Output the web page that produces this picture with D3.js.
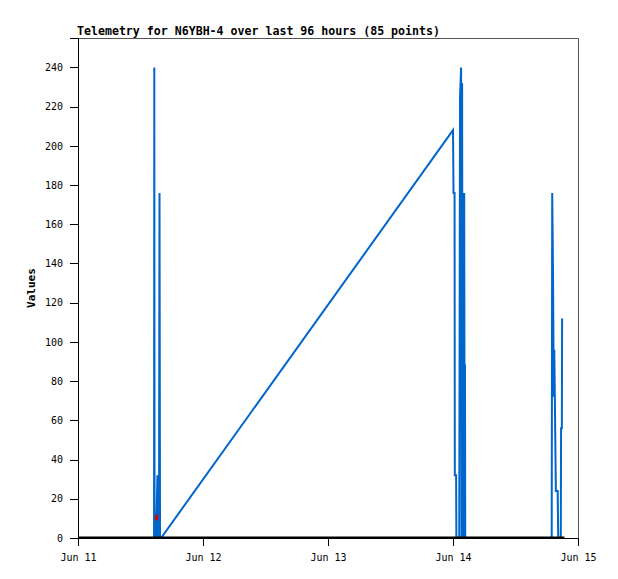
<!DOCTYPE html>
<html>
<head>
<meta charset="utf-8">
<script src="https://cdn.jsdelivr.net/npm/d3@7"></script>
<style>
  body { margin: 0; background: #fff; }
  svg { display: block; }
</style>
</head>
<body>
<div id="chart"></div>
<script>
const title = "Telemetry for N6YBH-4 over last 96 hours (85 points)";
const yLabel = "Values";
const xDomain = ["2024-06-11T00:00", "2024-06-15T00:00"];
const yDomain = [0, 255];
const yTicks = [0, 20, 40, 60, 80, 100, 120, 140, 160, 180, 200, 220, 240];
const xTicks = ["2024-06-11T00:00", "2024-06-12T00:00", "2024-06-13T00:00", "2024-06-14T00:00", "2024-06-15T00:00"];

// Main telemetry series (blue)
const blueTimes = [
  "2024-06-11T14:36", "2024-06-11T14:39", "2024-06-11T14:42", "2024-06-11T15:00",
  "2024-06-11T15:15", "2024-06-11T15:21", "2024-06-11T15:33", "2024-06-11T15:39",
  "2024-06-11T15:45", "2024-06-11T15:57",
  "2024-06-14T00:00", "2024-06-14T00:06", "2024-06-14T00:18", "2024-06-14T00:21",
  "2024-06-14T00:36", "2024-06-14T00:39", "2024-06-14T01:12", "2024-06-14T01:21",
  "2024-06-14T01:33", "2024-06-14T01:39", "2024-06-14T01:45", "2024-06-14T01:51",
  "2024-06-14T01:57", "2024-06-14T02:03", "2024-06-14T02:09", "2024-06-14T02:12",
  "2024-06-14T02:18", "2024-06-14T02:21",
  "2024-06-14T18:57", "2024-06-14T19:03", "2024-06-14T19:12", "2024-06-14T19:21",
  "2024-06-14T19:27", "2024-06-14T19:45", "2024-06-14T20:06", "2024-06-14T20:12",
  "2024-06-14T20:42", "2024-06-14T20:45", "2024-06-14T20:54", "2024-06-14T20:57"
];
const blueValues = [
  0, 240, 0, 0,
  32, 0, 0, 176,
  0, 0,
  208, 176, 176, 32,
  32, 0, 0, 225,
  240, 0, 232, 0,
  176, 0, 176, 88,
  88, 0,
  0, 176, 136, 72,
  96, 24, 24, 0,
  0, 56, 56, 112
];

// Zero baseline series (black)
const blackTimes = ["2024-06-11T00:00", "2024-06-14T21:24"];
const blackValues = [0, 0];

// Small red series
const redTimes = ["2024-06-11T15:06", "2024-06-11T15:07"];
const redValues = [9, 12];

const W = 618, H = 579;
const margin = { left: 78, right: 40, top: 38, bottom: 41 };
const parse = d3.utcParse("%Y-%m-%dT%H:%M");

const svg = d3.select("#chart").append("svg").attr("width", W).attr("height", H);

const x = d3.scaleUtc().domain(xDomain.map(parse)).range([margin.left, W - margin.right]);
const y = d3.scaleLinear().domain(yDomain).range([H - margin.bottom, margin.top]);

const font = "'DejaVu Sans Mono', 'Liberation Mono', monospace";

// frame (top & right)
svg.append("path")
  .attr("d", `M${x.range()[0]},${y.range()[1]+0.5}H${x.range()[1]+0.5}V${y.range()[0]}`)
  .attr("fill", "none").attr("stroke", "#555").attr("stroke-width", 1);

const mkSeries = (times, values) => times.map((t, i) => ({ t: parse(t), v: values[i] }));
const line = d3.line().x(d => x(d.t)).y(d => y(d.v));

svg.append("path").datum(mkSeries(blueTimes, blueValues))
  .attr("d", line).attr("fill", "none").attr("stroke", "#0066cc")
  .attr("stroke-width", 2).attr("stroke-linejoin", "miter");

svg.append("path").datum(mkSeries(redTimes, redValues))
  .attr("d", line).attr("fill", "none").attr("stroke", "#e00000")
  .attr("stroke-width", 3);

svg.append("path").datum(mkSeries(blackTimes, blackValues))
  .attr("d", line).attr("fill", "none").attr("stroke", "#000")
  .attr("stroke-width", 2).attr("transform", "translate(0,-0.5)");

// axes
const yAxis = d3.axisLeft(y).tickValues(yTicks).tickSize(8).tickPadding(7);
const gy = svg.append("g").attr("transform", `translate(${margin.left},0)`).call(yAxis);
const xAxis = d3.axisBottom(x).tickValues(xTicks.map(parse)).tickSize(8).tickPadding(8)
  .tickFormat(d3.utcFormat("%b %d"));
const gx = svg.append("g").attr("transform", `translate(0,${H - margin.bottom})`).call(xAxis);

[gx, gy].forEach(g => {
  g.selectAll("text").attr("font-family", font).attr("font-size", 10).attr("fill", "#000");
  g.selectAll("line").attr("stroke", "#000").attr("shape-rendering", "crispEdges");
  g.select(".domain").attr("stroke", "#000").attr("shape-rendering", "crispEdges");
});

svg.append("text").attr("x", 77).attr("y", 35)
  .attr("font-family", font).attr("font-size", 11.6).attr("font-weight", "bold")
  .text(title);

svg.append("text")
  .attr("transform", `translate(35,${(margin.top + H - margin.bottom) / 2}) rotate(-90)`)
  .attr("text-anchor", "middle")
  .attr("font-family", font).attr("font-size", 11).attr("font-weight", "bold")
  .text(yLabel);
</script>
</body>
</html>
